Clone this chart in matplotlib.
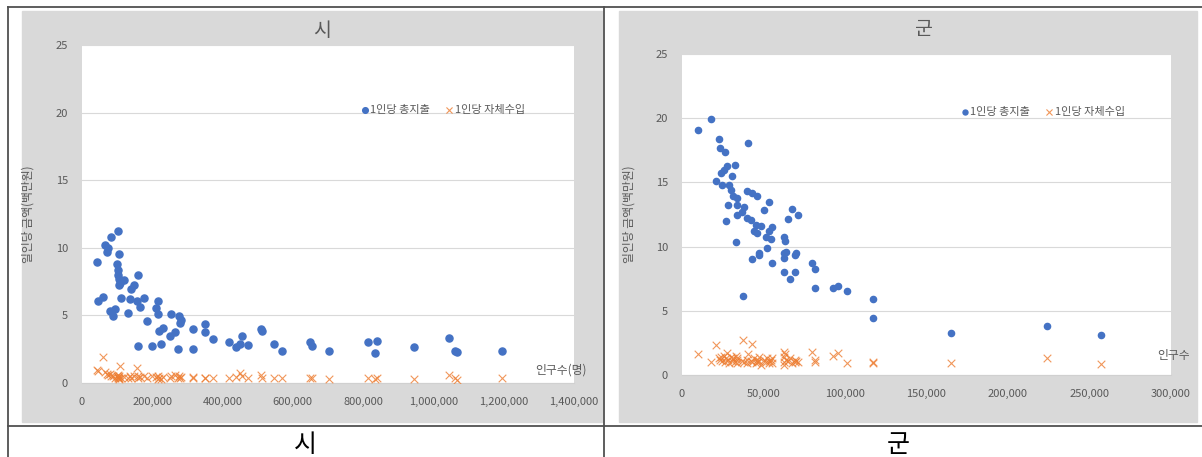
import matplotlib
matplotlib.use('Agg')
import matplotlib.pyplot as plt
from matplotlib.lines import Line2D
from matplotlib.patches import Rectangle
from matplotlib.ticker import FuncFormatter, MultipleLocator

plt.rcParams['font.family'] = ['Noto Sans CJK KR', 'DejaVu Sans']

# 시 : 인구수, 1인당 총지출, 1인당 자체수입 (백만원)
si_pop = [42800, 44600, 59000, 66500, 71000, 74000, 80700, 83600, 88400, 95000,
          100800, 101700, 102600, 102600, 104600, 105000, 106000, 109000, 112000, 118700,
          132000, 135900, 140700, 147000, 156800, 159700, 159700, 166000, 175800, 185300,
          199600, 211000, 215800, 215800, 220400, 226000, 230000, 249000, 254600, 264200,
          273700, 275600, 278500, 283000, 316500, 316500, 348800, 349800, 373500, 419000,
          437000, 451000, 456000, 473000, 508000, 513000, 545000, 569000, 650000, 655000,
          703000, 814500, 832500, 840000, 944600, 1044000, 1061000, 1068000, 1194600]
si_total = [8.93, 6.06, 6.38, 10.2, 9.71, 9.96, 5.35, 10.78, 4.98, 5.45,
            8.78, 8.36, 11.24, 7.99, 7.25, 9.57, 7.67, 7.4, 6.31, 7.62,
            5.15, 6.21, 6.95, 7.25, 6.06, 7.99, 2.74, 5.64, 6.31, 4.59,
            2.74, 5.57, 6.06, 5.10, 3.87, 2.88, 4.09, 3.48, 5.08, 3.80,
            2.49, 4.96, 4.41, 4.66, 3.97, 2.49, 4.34, 3.80, 3.23, 3.05,
            2.69, 2.88, 3.48, 2.81, 3.97, 3.87, 2.88, 2.37, 3.05, 2.76,
            2.37, 3.05, 2.19, 3.13, 2.69, 3.30, 2.37, 2.27, 2.37]
si_own = [0.96, 0.9, 1.95, 0.8, 0.7, 0.6, 0.65, 0.5, 0.55, 0.4,
          0.5, 0.35, 0.6, 0.45, 0.4, 0.3, 0.5, 1.26, 0.35, 0.45,
          0.4, 0.5, 0.35, 0.55, 1.09, 0.5, 0.4, 0.45, 0.5, 0.4,
          0.55, 0.45, 0.3, 0.5, 0.4, 0.3, 0.45, 0.35, 0.5, 0.6,
          0.4, 0.5, 0.35, 0.45, 0.4, 0.45, 0.4, 0.35, 0.4, 0.4,
          0.45, 0.75, 0.5, 0.4, 0.6, 0.35, 0.35, 0.35, 0.4, 0.35,
          0.3, 0.35, 0.3, 0.35, 0.3, 0.6, 0.35, 0.25, 0.35]

# 군
gun_pop = [9800, 17600, 20700, 22700, 23400, 24200, 24800, 25800, 26200, 26900,
           27500, 28300, 28900, 29900, 30900, 31500, 32400, 33000, 34000, 34000,
           34000, 37100, 37700, 38100, 40100, 40100, 40600, 42200, 43200, 43200,
           44300, 45300, 46300, 46300, 47300, 47300, 48400, 50000, 51500, 52100,
           53500, 53500, 54900, 55100, 55500, 62700, 62700, 62700, 62700, 63300,
           63700, 65200, 66400, 67200, 69500, 69500, 69900, 70900, 79700, 81800,
           81800, 92800, 95900, 101000, 117200, 117200, 165200, 224200, 257000]
gun_total = [19.06, 19.9, 15.1, 18.36, 17.7, 15.7, 14.8, 15.97, 17.4, 12.02,
             16.28, 13.24, 14.8, 14.4, 15.5, 13.97, 16.35, 10.33, 13.76, 13.24,
             12.46, 12.72, 6.15, 13.1, 14.33, 12.25, 18.1, 12.07, 14.2, 9.01,
             11.21, 11.68, 13.97, 11.03, 9.52, 9.35, 11.63, 12.82, 10.77, 9.91,
             13.45, 11.21, 10.59, 8.75, 11.55, 10.77, 9.47, 9.09, 8.0, 10.44,
             9.6, 12.13, 7.45, 12.9, 9.35, 8.0, 9.52, 12.5, 8.75, 8.26,
             6.75, 6.75, 6.93, 6.54, 5.9, 4.41, 3.25, 3.82, 3.12]
gun_own = [1.64, 1.04, 2.34, 1.3, 1.2, 1.4, 1.1, 1.5, 1.0, 1.3,
           1.7, 1.2, 0.9, 1.4, 1.1, 1.3, 1.0, 1.5, 1.2, 0.9,
           1.3, 1.1, 2.73, 1.0, 1.2, 0.9, 1.64, 1.1, 2.39, 1.0,
           1.3, 0.9, 1.2, 1.0, 1.1, 1.4, 0.8, 1.2, 1.0, 1.3,
           0.9, 1.1, 1.2, 0.9, 1.3, 1.81, 1.4, 1.0, 0.8, 1.6,
           1.2, 1.1, 1.3, 0.9, 1.2, 1.0, 1.1, 1.0, 1.81, 1.2,
           1.0, 1.48, 1.69, 0.91, 0.96, 1.0, 0.91, 1.35, 0.86]

W, H = 1202, 457
fig = plt.figure(figsize=(W / 100, H / 100), dpi=100)
fig.patch.set_facecolor('white')

def fx(px):
    return px / W

def fy(py):
    return 1 - py / H

# 차트 영역 회색 배경
fig.add_artist(Rectangle((fx(22), fy(422)), fx(602 - 22), (422 - 11) / H,
                         transform=fig.transFigure, color='#d9d9d9', zorder=0))
fig.add_artist(Rectangle((fx(619), fy(422)), fx(1197 - 619), (422 - 11) / H,
                         transform=fig.transFigure, color='#d9d9d9', zorder=0))

# 표 테두리
lc = '#505050'
fig.add_artist(Line2D([fx(8), 1], [fy(7), fy(7)], color=lc, lw=1.3))
fig.add_artist(Line2D([fx(8), 1], [fy(426), fy(426)], color=lc, lw=1.3))
fig.add_artist(Line2D([fx(8), fx(8)], [0, fy(7)], color=lc, lw=1.3))
fig.add_artist(Line2D([fx(604), fx(604)], [0, fy(7)], color=lc, lw=1.3))

blue = '#4472C4'
orange = '#ED7D31'
gray_txt = '#595959'

def draw(rect, pop, total, own, xmax, xstep, title, title_xy, leg_xy, dot, xlab_xy, xlab):
    ax = fig.add_axes(rect)
    ax.set_facecolor('white')
    ax.scatter(pop, total, s=dot, color=blue, zorder=3, label='1인당 총지출')
    ax.scatter(pop, own, s=30, marker='x', color=orange, linewidths=0.8, alpha=0.8,
               zorder=3, label='1인당 자체수입')
    ax.set_xlim(0, xmax)
    ax.set_ylim(0, 25)
    ax.xaxis.set_major_locator(MultipleLocator(xstep))
    ax.yaxis.set_major_locator(MultipleLocator(5))
    ax.xaxis.set_major_formatter(FuncFormatter(lambda v, p: f'{int(v):,}'))
    ax.grid(axis='y', color='#d9d9d9', lw=0.8)
    ax.set_axisbelow(True)
    for s in ['top', 'right', 'left']:
        ax.spines[s].set_visible(False)
    ax.spines['bottom'].set_color('#d0d0d0')
    ax.tick_params(length=0, labelsize=8, labelcolor=gray_txt)
    ax.tick_params(axis='x', pad=10)
    ax.tick_params(axis='y', pad=10)
    ax.set_ylabel('일인당 금액(백만원)', fontsize=8.5, color=gray_txt)
    ax.yaxis.set_label_coords(-0.096, 0.5)
    fig.text(fx(title_xy[0]), fy(title_xy[1]), title, fontsize=14, color=gray_txt,
             ha='center', va='center')
    fig.text(fx(xlab_xy[0]), fy(xlab_xy[1]), xlab, fontsize=8.5, color=gray_txt,
             ha='left', va='center')
    leg = ax.legend(loc='center', bbox_to_anchor=(fx(leg_xy[0]), fy(leg_xy[1])),
                    bbox_transform=fig.transFigure, ncol=2, frameon=False,
                    fontsize=8, handletextpad=0.0, columnspacing=1.2,
                    markerscale=0.8, handlelength=1.0)
    for t in leg.get_texts():
        t.set_color(gray_txt)
    return ax

draw([fx(82), fy(383), fx(574 - 82), (383 - 45) / H], si_pop, si_total, si_own,
     1400000, 200000, '시', (322, 30), (442, 110), 26, (535, 370), '인구수(명)')
draw([fx(682), fy(375), fx(1171 - 682), (375 - 54) / H], gun_pop, gun_total, gun_own,
     300000, 50000, '군', (924, 30), (1042, 112), 20, (1157, 355), '인구수')

# 표 아래 캡션
fig.text(fx(305), fy(432), '시', fontsize=18, color='black', ha='center', va='top')
fig.text(fx(898), fy(432), '군', fontsize=18, color='black', ha='center', va='top')

plt.savefig('out.png', dpi=100)
